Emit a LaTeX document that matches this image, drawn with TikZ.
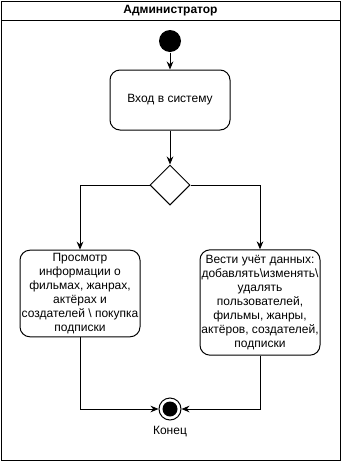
\documentclass[tikz,border=0pt]{standalone}
\usepackage{fontspec}
\setmainfont{Liberation Sans}
\usetikzlibrary{arrows.meta,positioning,shapes.geometric}

\begin{document}
\begin{tikzpicture}[>={Stealth[length=6pt,width=5pt]},x=0.75pt,y=-0.75pt,line width=0.75pt,
  every node/.style={font=\fontsize{9}{10.4}\selectfont,align=center,inner sep=1pt},
  act/.style={draw,rounded corners=7.5pt,fill=white,minimum width=90pt},
  dec/.style={draw,diamond,fill=white,minimum size=30pt,inner sep=0pt}]
\useasboundingbox (0,0) rectangle (341,461);
\draw (1,1) rectangle (340,460);\draw (1,20)--(340,20);
\node[font=\fontsize{9}{10.4}\selectfont\bfseries] (lane) at (170.5,11) {Администратор};
\node[circle,fill,minimum size=16.5pt,inner sep=0pt] (start) at (170,41) {};
\node[act,minimum height=45pt] (login) at (170,100) {Вход в систему};
\node[dec] (choice) at (170,185) {};
\node[act,minimum height=65pt] (view) at (80,293.5) {Просмотр\\информации о\\фильмах, жанрах,\\актёрах и\\создателей \textbackslash{} покупка\\подписки};
\node[act,minimum height=79pt] (edit) at (260,302.5) {Вести учёт данных:\\добавлять\textbackslash{}изменять\textbackslash{}\\удалять\\пользователей,\\фильмы, жанры,\\актёров, создателей,\\подписки};
\node[circle,draw,fill=white,minimum size=16.5pt,inner sep=0pt] (stop) at (170,409) {};
\fill (stop.center) circle (7.5);
\node[below=3pt of stop] (stoplbl) {Конец};
\draw[->] (start)--(login);\draw[->] (login)--(choice);
\draw[->] (choice.west)-|(view.north);\draw[->] (choice.east)-|(edit.north);
\draw[->] (view.south)|-(stop.west);\draw[->] (edit.south)|-(stop.east);
\end{tikzpicture}
\end{document}
